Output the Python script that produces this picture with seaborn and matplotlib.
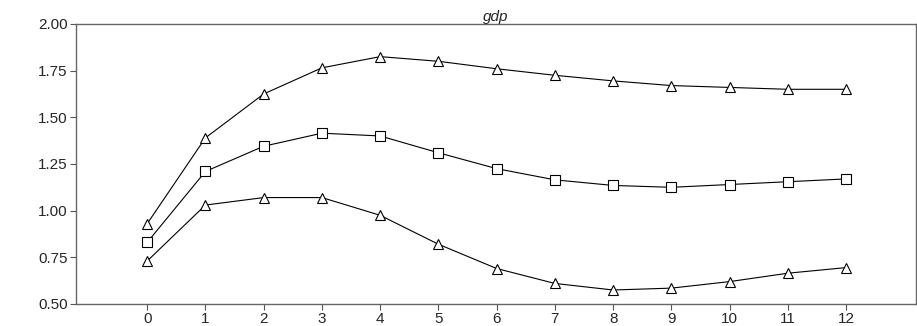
import matplotlib
matplotlib.use("Agg")
import matplotlib.pyplot as plt
import seaborn as sns
import pandas as pd

# impulse response horizons and the three bands
horizons = list(range(13))
upper = [0.93, 1.39, 1.625, 1.765, 1.825, 1.80, 1.76, 1.725, 1.695, 1.67, 1.66, 1.65, 1.65]
median = [0.83, 1.21, 1.345, 1.415, 1.40, 1.31, 1.225, 1.165, 1.135, 1.125, 1.14, 1.155, 1.17]
lower = [0.73, 1.03, 1.07, 1.07, 0.975, 0.82, 0.69, 0.61, 0.575, 0.585, 0.62, 0.665, 0.695]
y_ticks = [0.50, 0.75, 1.00, 1.25, 1.50, 1.75, 2.00]
title = "gdp"

sns.set_theme(style="ticks")
plt.rcParams["font.family"] = ["Liberation Sans", "DejaVu Sans"]

df = pd.concat([
    pd.DataFrame({"h": horizons, "value": upper, "band": "upper"}),
    pd.DataFrame({"h": horizons, "value": median, "band": "median"}),
    pd.DataFrame({"h": horizons, "value": lower, "band": "lower"}),
])

fig = plt.figure(figsize=(9.17, 3.26), dpi=100)
ax = fig.add_axes([0.083, 0.0675, 0.916, 0.859])

sns.lineplot(data=df, x="h", y="value", hue="band", style="band",
             palette={"upper": "black", "median": "black", "lower": "black"},
             markers={"upper": "^", "median": "s", "lower": "^"},
             dashes=False, linewidth=0.8, markersize=7, legend=False, ax=ax)

for line in ax.lines:
    line.set_markerfacecolor("white")
    line.set_markeredgecolor("black")
    line.set_markeredgewidth(0.8)

ax.set_xlim(-1.22, 13.2)
ax.set_ylim(0.5, 2.0)
ax.set_xticks(horizons)
ax.set_yticks(y_ticks)
ax.set_yticklabels([f"{t:.2f}" for t in y_ticks])
ax.set_xlabel("")
ax.set_ylabel("")
ax.tick_params(labelsize=11, length=4, width=0.8, color="#555555", pad=2)
for s in ax.spines.values():
    s.set_visible(True)
    s.set_color("#666666")
    s.set_linewidth(1.0)
ax.set_title(title, fontstyle="italic", fontsize=11, pad=1)

fig.savefig("out.png", dpi=100)
